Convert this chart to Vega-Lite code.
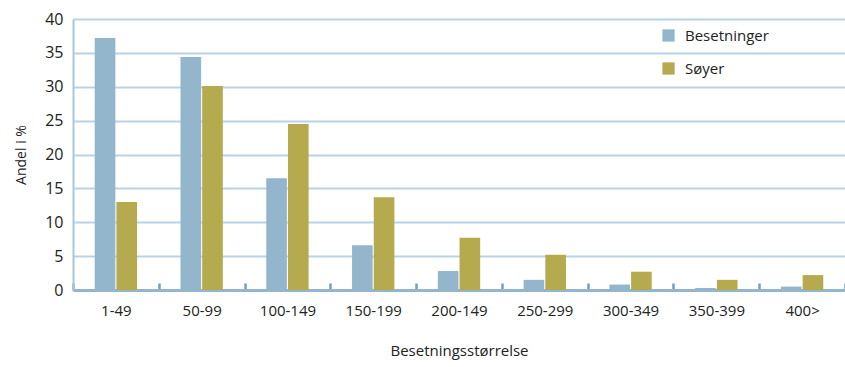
{
  "$schema": "https://vega.github.io/schema/vega-lite/v6.json",
  "width": 772,
  "height": 271,
  "autosize": {"type": "none"},
  "padding": {"left": 73, "top": 19, "right": 0, "bottom": 77},
  "background": "white",
  "config": {
    "view": {"stroke": null},
    "font": "Open Sans"
  },
  "data": {
    "values": [
      {"storrelse": "1-49", "serie": "Besetninger", "andel": 37.2},
      {"storrelse": "1-49", "serie": "Søyer", "andel": 13.0},
      {"storrelse": "50-99", "serie": "Besetninger", "andel": 34.4},
      {"storrelse": "50-99", "serie": "Søyer", "andel": 30.1},
      {"storrelse": "100-149", "serie": "Besetninger", "andel": 16.5},
      {"storrelse": "100-149", "serie": "Søyer", "andel": 24.5},
      {"storrelse": "150-199", "serie": "Besetninger", "andel": 6.6},
      {"storrelse": "150-199", "serie": "Søyer", "andel": 13.7},
      {"storrelse": "200-149", "serie": "Besetninger", "andel": 2.8},
      {"storrelse": "200-149", "serie": "Søyer", "andel": 7.7},
      {"storrelse": "250-299", "serie": "Besetninger", "andel": 1.5},
      {"storrelse": "250-299", "serie": "Søyer", "andel": 5.2},
      {"storrelse": "300-349", "serie": "Besetninger", "andel": 0.8},
      {"storrelse": "300-349", "serie": "Søyer", "andel": 2.7},
      {"storrelse": "350-399", "serie": "Besetninger", "andel": 0.3},
      {"storrelse": "350-399", "serie": "Søyer", "andel": 1.5},
      {"storrelse": "400>", "serie": "Besetninger", "andel": 0.5},
      {"storrelse": "400>", "serie": "Søyer", "andel": 2.2}
    ]
  },
  "mark": {"type": "bar"},
  "encoding": {
    "x": {
      "field": "storrelse",
      "type": "nominal",
      "sort": null,
      "scale": {"paddingInner": 0, "paddingOuter": 0},
      "axis": {
        "title": "Besetningsstørrelse",
        "titleFontSize": 15,
        "titleFontWeight": "normal",
        "titleColor": "#222222",
        "titlePadding": 25,
        "labelAngle": 0,
        "labelFontSize": 15,
        "labelColor": "#222222",
        "labelPadding": 20,
        "domainColor": "#93b6cd",
        "domainWidth": 3,
        "tickBand": "extent",
        "tickColor": "#6f9fc2",
        "tickWidth": 2.5,
        "tickSize": -7,
        "grid": false
      }
    },
    "xOffset": {
      "field": "serie",
      "type": "nominal",
      "scale": {"paddingInner": 0.05, "paddingOuter": 1.1}
    },
    "y": {
      "field": "andel",
      "type": "quantitative",
      "scale": {"domain": [0, 40], "nice": false},
      "axis": {
        "title": "Andel i %",
        "titleFontSize": 14,
        "titleFontWeight": "normal",
        "titleColor": "#222222",
        "titlePadding": 16,
        "values": [0, 5, 10, 15, 20, 25, 30, 35, 40],
        "labelFontSize": 16,
        "labelColor": "#222222",
        "labelPadding": 10,
        "ticks": false,
        "domainColor": "#a9c7dc",
        "domainWidth": 2,
        "gridColor": "#b9d3e6",
        "gridWidth": 2
      }
    },
    "color": {
      "field": "serie",
      "type": "nominal",
      "scale": {"domain": ["Besetninger", "Søyer"], "range": ["#93b6cd", "#b6aa4e"]},
      "legend": {
        "title": null,
        "orient": "none",
        "legendX": 588,
        "legendY": 9,
        "symbolType": "square",
        "symbolSize": 150,
        "symbolStrokeWidth": 0,
        "labelFontSize": 15,
        "labelColor": "#222222",
        "labelOffset": 9,
        "rowPadding": 17
      }
    }
  }
}
